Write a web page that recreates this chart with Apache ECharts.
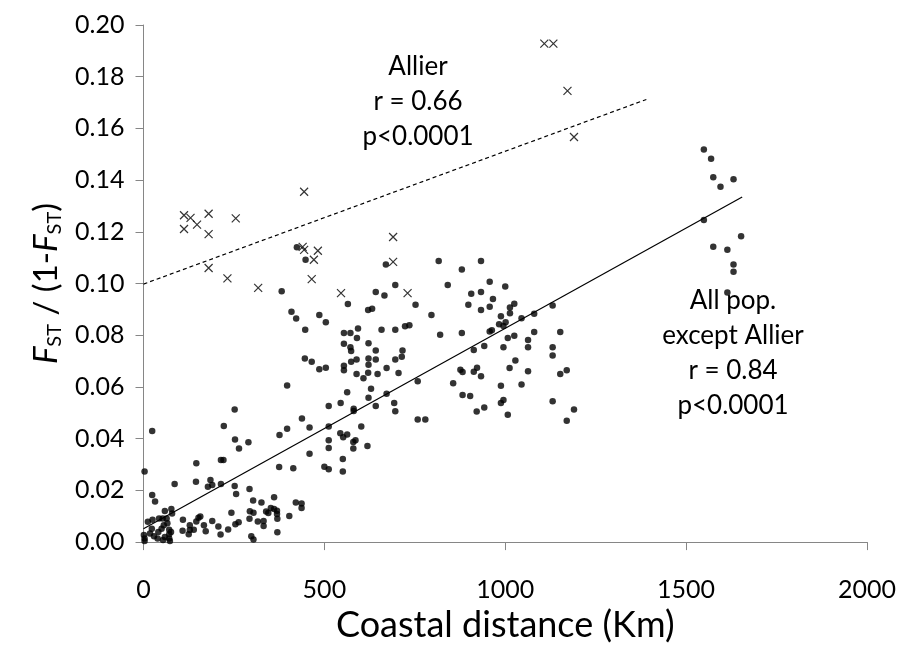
<!DOCTYPE html>
<html>
<head>
<meta charset="utf-8">
<script src="https://cdn.jsdelivr.net/npm/echarts@6/dist/echarts.min.js"></script>
<style>
html,body{margin:0;padding:0;background:#fff;}
#chart{width:899px;height:648px;}
</style>
</head>
<body>
<div id="chart"></div>
<script>
// All populations except Allier: [coastal distance (km), Fst/(1-Fst)]
const otherPops = [
[24,0.0430],[253,0.0397],[290,0.0386],[376,0.0414],[264,0.0362],[3,0.0273],[146,0.0305],[214,0.0318],[221,0.0318],
[375,0.0290],[414,0.0286],[24,0.0182],[32,0.0157],[86,0.0225],[145,0.0233],[185,0.0240],[190,0.0221],[178,0.0214],
[214,0.0225],[252,0.0217],[256,0.0186],[293,0.0205],[303,0.0161],[326,0.0153],[361,0.0173],[421,0.0153],[59,0.0120],
[77,0.0128],[79,0.0111],[12,0.0079],[25,0.0086],[43,0.0091],[53,0.0091],[64,0.0091],[66,0.0073],[109,0.0086],
[146,0.0080],[152,0.0094],[157,0.0099],[167,0.0065],[190,0.0082],[207,0.0060],[243,0.0114],[263,0.0077],[254,0.0069],
[293,0.0090],[294,0.0119],[304,0.0114],[316,0.0080],[332,0.0082],[332,0.0062],[339,0.0118],[345,0.0113],[352,0.0132],
[361,0.0128],[369,0.0121],[369,0.0109],[370,0.0090],[403,0.0101],[370,0.0038],[108,0.0044],[128,0.0047],[139,0.0048],
[128,0.0065],[125,0.0030],[172,0.0042],[213,0.0029],[234,0.0049],[298,0.0023],[304,0.0010],[1,0.0027],[3,0.0014],
[3,0.0004],[23,0.0052],[18,0.0033],[29,0.0023],[41,0.0039],[39,0.0014],[71,0.0048],[71,0.0030],[71,0.0014],
[73,0.0004],[76,0.0039],[59,0.0020],[54,0.0008],[50,0.0052],[56,0.0065],
[409,0.0891],[422,0.0865],[397,0.0606],[252,0.0513],[222,0.0449],[397,0.0438],
[459,0.0342],[512,0.0394],[512,0.0364],[500,0.0291],[512,0.0282],[551,0.0321],[551,0.0273],[544,0.0421],[552,0.0406],
[563,0.0416],[580,0.0387],[586,0.0394],[580,0.0362],[619,0.0372],[437,0.0149],[437,0.0132],
[424,0.1140],[448,0.1092],[670,0.1074],[816,0.1087],[696,0.0994],[841,0.0994],[642,0.0967],[666,0.0954],[565,0.0921],
[752,0.0918],[621,0.0898],[632,0.0903],[796,0.0878],[486,0.0878],[504,0.0850],[723,0.0835],[735,0.0839],[447,0.0821],
[554,0.0809],[572,0.0809],[593,0.0826],[658,0.0821],[696,0.0821],[590,0.0789],[820,0.0802],[554,0.0767],[622,0.0769],
[572,0.0754],[574,0.0739],[642,0.0741],[716,0.0741],[714,0.0717],[446,0.0710],[465,0.0698],[574,0.0698],[589,0.0706],
[622,0.0710],[642,0.0706],[696,0.0706],[622,0.0686],[486,0.0669],[504,0.0674],[554,0.0682],[554,0.0665],[672,0.0673],
[589,0.0650],[621,0.0655],[647,0.0650],[608,0.0634],[705,0.0654],[758,0.0622],[856,0.0614],[629,0.0593],[563,0.0580],
[672,0.0574],[622,0.0558],[545,0.0538],[512,0.0526],[581,0.0516],[581,0.0507],[642,0.0526],[693,0.0538],[696,0.0506],
[438,0.0478],[758,0.0474],[779,0.0474],[459,0.0443],[512,0.0447],[602,0.0447],[382,0.0970],
[933,0.1087],[880,0.1054],[957,0.1007],[1000,0.0989],[906,0.0961],[933,0.0967],[966,0.0940],[898,0.0918],[957,0.0910],
[933,0.0898],[1013,0.0907],[1025,0.0922],[1013,0.0885],[1131,0.0915],[988,0.0874],[1045,0.0866],[1080,0.0883],
[983,0.0843],[995,0.0836],[1001,0.0850],[880,0.0809],[957,0.0815],[963,0.0819],[1007,0.0789],[1025,0.0798],
[1080,0.0813],[1152,0.0813],[1063,0.0782],[913,0.0743],[942,0.0758],[995,0.0754],[1063,0.0754],[1131,0.0754],
[1131,0.0722],[1028,0.0702],[876,0.0667],[882,0.0658],[913,0.0659],[922,0.0674],[933,0.0641],[1012,0.0673],
[1063,0.0661],[1152,0.0650],[1170,0.0665],[988,0.0605],[1045,0.0610],
[882,0.0569],[903,0.0565],[942,0.0521],[921,0.0505],[988,0.0538],[995,0.0550],[1007,0.0493],[1131,0.0545],
[1190,0.0513],[1170,0.0469],
[1549,0.1518],[1569,0.1483],[1575,0.1411],[1595,0.1374],[1631,0.1403],[1549,0.1246],[1652,0.1183],[1575,0.1142],
[1614,0.1131],[1631,0.1074],[1631,0.1046],[1614,0.0965]
];
// Allier population pairs
const allierPops = [
[112,0.1264],[130,0.1254],[148,0.1228],[180,0.1270],[112,0.1211],[180,0.1191],[255,0.1252],[444,0.1355],
[180,0.1060],[232,0.1020],[317,0.0983],[440,0.1142],[444,0.1130],[482,0.1127],[471,0.1092],[465,0.1017],
[690,0.1180],[690,0.1084],[546,0.0963],[730,0.0963],[1108,0.1928],[1133,0.1928],[1172,0.1745],[1190,0.1567]
];
// Trend lines (end points)
const otherTrend = [[0,0.0052],[1655,0.1335]];
const allierTrend = [[0,0.0998],[1390,0.1712]];
const allierNote = ['Allier','r = 0.66','p<0.0001'];
const otherNote = ['All pop.','except Allier','r = 0.84','p<0.0001'];

const FONT = 'Lato';
const GREY = '#868686';
const chart = echarts.init(document.getElementById('chart'));
chart.setOption({
  animation: false,
  backgroundColor: '#fff',
  grid: {left: 143.5, right: 29.5, top: 25, bottom: 96, containLabel: false},
  xAxis: {
    type: 'value', min: 0, max: 2000, interval: 500,
    splitLine: {show: false},
    axisLine: {show: true, lineStyle: {color: GREY, width: 1}},
    axisTick: {show: true, length: 8, lineStyle: {color: GREY}},
    axisLabel: {margin: 35, color: '#000', fontFamily: FONT, fontSize: 25,
      formatter: v => String(v)},
    name: 'Coastal distance (Km)', nameLocation: 'middle', nameGap: 57,
    nameTextStyle: {color: '#000', fontFamily: FONT, fontSize: 36}
  },
  yAxis: {
    type: 'value', min: 0, max: 0.2, interval: 0.02,
    splitLine: {show: false},
    axisLine: {show: true, lineStyle: {color: GREY, width: 1}},
    axisTick: {show: true, length: 8, lineStyle: {color: GREY}},
    axisLabel: {margin: 19, color: '#000', fontFamily: FONT, fontSize: 25,
      formatter: v => v.toFixed(2)},
    name: '{i|F}{s|ST}{n| / (1-}{i|F}{s|ST}{n|)}',
    nameLocation: 'middle', nameRotate: 90, nameGap: 76,
    nameTextStyle: {
      color: '#000', fontFamily: FONT, fontSize: 33,
      rich: {
        i: {fontStyle: 'italic', fontFamily: FONT, fontSize: 33, color: '#000', lineHeight: 36},
        n: {fontFamily: FONT, fontSize: 33, color: '#000', lineHeight: 36},
        s: {fontFamily: FONT, fontSize: 20, color: '#000', lineHeight: 10, verticalAlign: 'bottom'}
      }
    }
  },
  series: [
    {type: 'scatter', name: 'All pop.', data: otherPops, symbol: 'circle', symbolSize: 6.5,
     itemStyle: {color: '#000'}, z: 3},
    {type: 'scatter', name: 'Allier', data: allierPops, symbol: 'path://M0,0L10,10M10,0L0,10',
     symbolSize: 8, itemStyle: {color: 'rgba(0,0,0,0)', borderColor: '#000', borderWidth: 1.2}, z: 3},
    {type: 'line', data: otherTrend, symbol: 'none', lineStyle: {color: '#000', width: 1.2}, z: 2},
    {type: 'line', data: allierTrend, symbol: 'none', lineStyle: {color: '#000', width: 1.2, type: [4, 3]}, z: 2}
  ],
  graphic: [
    {type: 'text', left: 418 - 80, top: 49, style: {text: allierNote.join('\n'), width: 160, align: 'center',
      x: 80, textAlign: 'center', font: '26px ' + FONT, lineHeight: 35, fill: '#000'}},
    {type: 'text', left: 733 - 100, top: 283, style: {text: otherNote.join('\n'), width: 200, align: 'center',
      x: 100, textAlign: 'center', font: '26px ' + FONT, lineHeight: 35, fill: '#000'}}
  ]
});
</script>
</body>
</html>
